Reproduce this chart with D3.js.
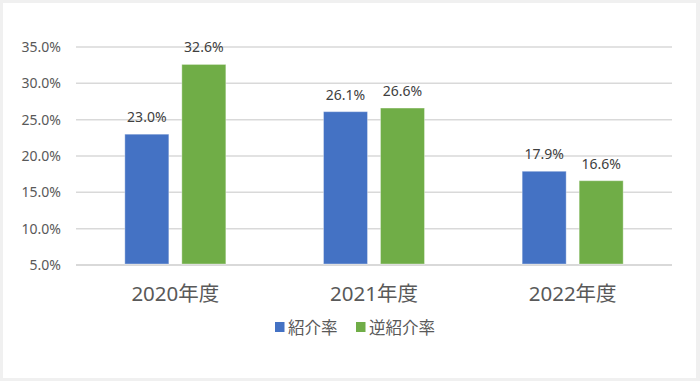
<!DOCTYPE html>
<html>
<head>
<meta charset="utf-8">
<script src="https://cdn.jsdelivr.net/npm/d3@7"></script>
<style>
  body { margin: 0; background: #f0f0f0; }
  #chart { position: absolute; left: 0; top: 0; }
</style>
</head>
<body>
<div id="chart"></div>
<script>
// data
const years = ["2020年度", "2021年度", "2022年度"];
const seriesNames = ["紹介率", "逆紹介率"];
const introRate = [23.0, 26.1, 17.9];
const reverseRate = [32.6, 26.6, 16.6];
const yTicks = [5, 10, 15, 20, 25, 30, 35];
const colors = ["#4472C4", "#70AD47"];

const width = 700, height = 381;
const margin = { top: 47, right: 28, bottom: 116, left: 76 };
const innerWidth = width - margin.left - margin.right;
const innerHeight = height - margin.top - margin.bottom;
const font = "'Noto Sans', 'Noto Sans CJK JP', sans-serif";

const svg = d3.select("#chart").append("svg")
  .attr("width", width)
  .attr("height", height);

// white panel inside the light gray frame
svg.append("rect")
  .attr("x", 3).attr("y", 3)
  .attr("width", 693).attr("height", 375)
  .attr("fill", "#fff");

const g = svg.append("g")
  .attr("transform", `translate(${margin.left}, ${margin.top})`);

const yScale = d3.scaleLinear().domain([5, 35]).range([innerHeight, 0]);
const x0 = d3.scaleBand().domain(years).range([0, innerWidth]);
const x1 = d3.scaleBand().domain(seriesNames).range([0, 101]).paddingInner(0.228);

// gridlines
g.selectAll(".grid")
  .data(yTicks)
  .enter()
  .append("line")
  .attr("x1", 0).attr("x2", innerWidth)
  .attr("y1", d => yScale(d)).attr("y2", d => yScale(d))
  .attr("stroke", "#d9d9d9")
  .attr("stroke-width", d => d === 5 ? 2 : 1.5);

// y axis labels
const yAxis = d3.axisLeft(yScale).tickValues(yTicks).tickSize(0).tickPadding(15)
  .tickFormat(d => d.toFixed(1) + "%");
g.append("g")
  .call(yAxis)
  .call(a => a.select(".domain").remove())
  .call(a => a.selectAll("text")
    .attr("fill", "#595959")
    .style("font-family", font)
    .style("font-size", "14px"));

const rows = years.map((y, i) => ({ year: y, values: [introRate[i], reverseRate[i]] }));

const groups = g.selectAll(".yr")
  .data(rows)
  .enter()
  .append("g")
  .attr("transform", d => `translate(${x0(d.year) + (x0.bandwidth() - 101) / 2}, 0)`);

groups.selectAll("rect")
  .data(d => d.values.map((v, j) => ({ name: seriesNames[j], v, j })))
  .enter()
  .append("rect")
  .attr("x", d => x1(d.name))
  .attr("width", x1.bandwidth())
  .attr("y", d => yScale(d.v))
  .attr("height", d => yScale(5) - yScale(d.v) - 1)
  .attr("fill", d => colors[d.j])
  .attr("stroke", "#ffffff")
  .attr("stroke-opacity", 0.35)
  .attr("stroke-width", 1);

groups.selectAll(".lbl")
  .data(d => d.values.map((v, j) => ({ name: seriesNames[j], v })))
  .enter()
  .append("text")
  .attr("x", d => x1(d.name) + x1.bandwidth() / 2)
  .attr("y", d => yScale(d.v) - 12)
  .attr("text-anchor", "middle")
  .attr("fill", "#404040")
  .style("font-family", font)
  .style("font-size", "14px")
  .text(d => d.v.toFixed(1) + "%");

// x axis category labels
const xAxis = d3.axisBottom(x0).tickSize(0).tickPadding(21);
g.append("g")
  .attr("transform", `translate(0, ${innerHeight})`)
  .call(xAxis)
  .call(a => a.select(".domain").remove())
  .call(a => a.selectAll("text")
    .attr("fill", "#595959")
    .style("font-family", font)
    .style("font-size", "20.5px"));

// legend
const legend = svg.append("g").attr("transform", "translate(275, 327)");
const legendX = [0, 81];
seriesNames.forEach((name, i) => {
  const item = legend.append("g").attr("transform", `translate(${legendX[i]}, 0)`);
  item.append("rect")
    .attr("x", 0).attr("y", -5)
    .attr("width", 9.5).attr("height", 10)
    .attr("fill", colors[i]);
  item.append("text")
    .attr("x", 13).attr("y", 0)
    .attr("dominant-baseline", "central")
    .attr("fill", "#595959")
    .style("font-family", font)
    .style("font-size", "16.5px")
    .text(name);
});
</script>
</body>
</html>
